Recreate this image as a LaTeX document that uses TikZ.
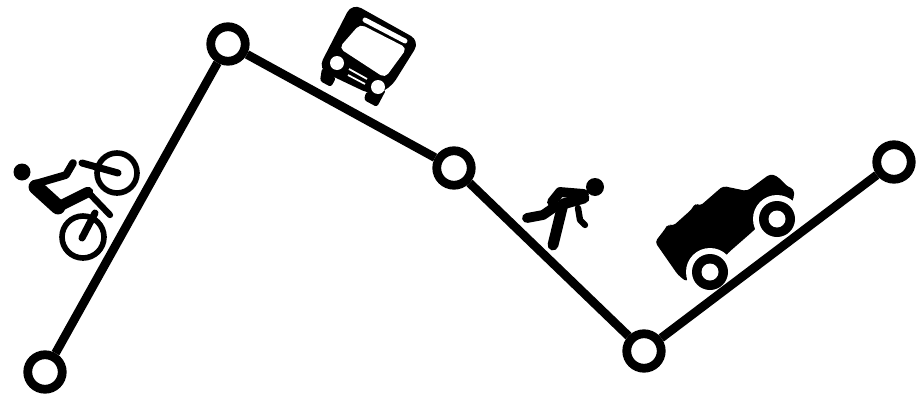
\documentclass[tikz,border=0pt]{standalone}
\tikzset{
	stopnode/.style={circle, draw=black, fill=white, line width=5pt, minimum size=0.69cm, inner sep=0pt},
	route/.style={line width=5pt, black},
	limb/.style={line cap=round, line join=round, black},
}
\begin{document}
\begin{tikzpicture}[x=0.02cm, y=-0.02cm]
	\useasboundingbox (0,0) rectangle (924,396);
	\node[stopnode] (start) at (45,372) {};
	\node[stopnode] (peak) at (228,44) {};
	\node[stopnode] (mid) at (454,168) {};
	\node[stopnode] (valley) at (644,351) {};
	\node[stopnode] (finish) at (894,162) {};
	% bike
	\fill (22,172) circle (8.5);
	\draw[line width=3.2pt] (117,173) circle (20);
	\draw[line width=3.2pt] (83,237) circle (21);
	\draw[limb, line width=8.5pt] (36,187) -- (58,207);
	\draw[limb, line width=6pt] (58,207) -- (88,192);
	\draw[limb, line width=3.6pt] (88,192) -- (110,215);
	\draw[limb, line width=4.4pt] (35,184) -- (66,175) -- (73,163);
	\draw[limb, line width=4pt] (82,163) -- (118,173);
	\draw[limb, line width=4pt] (95,213) -- (82,238);
	% bus
	\fill[rounded corners=6] (352,3) -- (420,41) -- (390,89) -- (372,95) -- (336,78) -- (318,69) -- cycle;
	\fill[rounded corners=1.5] (322,68) -- (336,78) -- (331,87) -- (320,81) -- cycle;
	\fill[rounded corners=1.5] (366,92) -- (386,90) -- (377,107) -- (364,100) -- cycle;
	\fill[white, rounded corners=3] (360,24) -- (407,48) -- (385,78) -- (339,48) -- cycle;
	\draw[white, line width=2.8pt, line cap=round] (365,20) -- (405,41);
	\fill[white] (337,63) circle (7);
	\fill[white] (378,87) circle (7);
	\draw[white, line width=1pt] (349,69) -- (367,79);
	\draw[white, line width=1pt] (348,75) -- (365,84);
	% runner
	\fill (595,187) circle (9);
	\draw[limb, line width=6.2pt] (584,198) -- (563,204) -- (553,245);
	\draw[limb, line width=5.6pt] (584,194) -- (560,192) -- (552,202);
	\draw[limb, line width=5.6pt] (527,218) -- (543,215) -- (556,206);
	\draw[limb, line width=3.6pt] (578,208) -- (580,220) -- (585,225);
	% jeep
	\fill[rounded corners=2] (655,242) -- (665,229) -- (668,224) -- (673,226) -- (692,209) -- (695,203) -- (700,206) -- (723,186) -- (747,191) -- (770,174) -- (777,176) -- (788,187) -- (794,189) -- (794,198) -- (790,205) -- (770,215) -- (752,232) -- (728,253) -- (711,273) -- (690,270) -- (687,282) -- (678,275) -- cycle;
	\fill[white] (777,219) circle (24);
	\fill[white] (710,272) circle (24);
	\fill (777,219) circle (18);
	\fill (710,272) circle (18);
	\fill[white] (777,219) circle (8.5);
	\fill[white] (710,272) circle (8.5);
	% route
	\draw[route] (start) -- (peak);
	\draw[route] (peak) -- (mid);
	\draw[route] (mid) -- (valley);
	\draw[route] (valley) -- (finish);
\end{tikzpicture}
\end{document}
